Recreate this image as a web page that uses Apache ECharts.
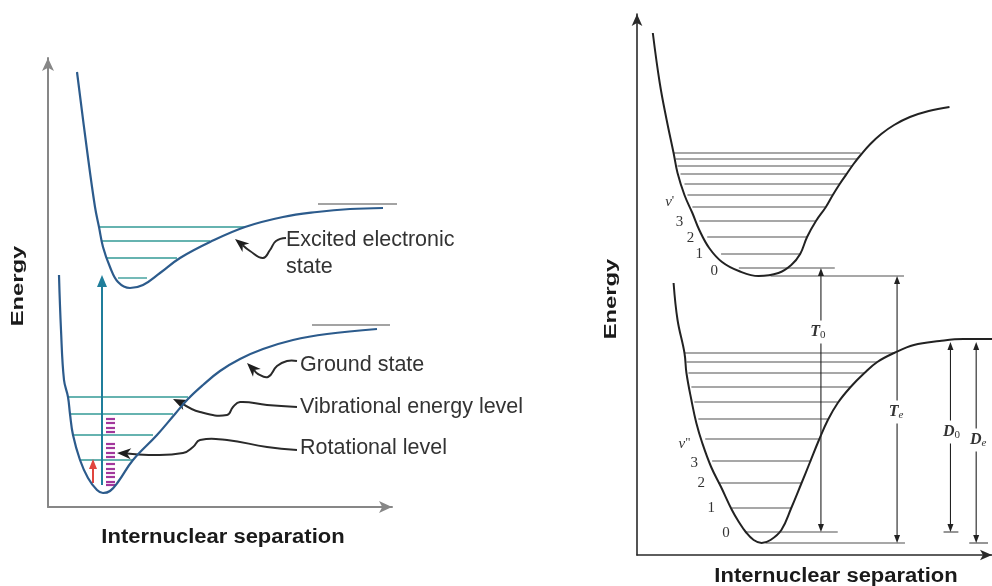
<!DOCTYPE html>
<html>
<head>
<meta charset="utf-8">
<script src="https://cdn.jsdelivr.net/npm/echarts@6/dist/echarts.min.js"></script>
<style>
  html, body { margin: 0; padding: 0; background: #fff; }
  #chart { width: 992px; height: 586px; }
</style>
</head>
<body>
<div id="chart"></div>
<script>
// ===== Left diagram: molecular potential curves (x: separation, y: energy) =====
const excitedCurve = [
  [0.29, 4.35], [0.39, 3.57], [0.47, 3.00], [0.51, 2.80], [0.55, 2.60], [0.62, 2.40],
  [0.70, 2.25], [0.82, 2.19], [0.95, 2.22], [1.12, 2.34], [1.32, 2.49], [1.62, 2.65],
  [1.97, 2.80], [2.35, 2.90], [2.69, 2.95], [3.02, 2.98], [3.35, 2.99]
];
const groundCurve = [
  [0.11, 2.32], [0.13, 1.77], [0.16, 1.27], [0.20, 1.10], [0.22, 0.93], [0.25, 0.72],
  [0.32, 0.47], [0.40, 0.29], [0.49, 0.17], [0.55, 0.14], [0.62, 0.16], [0.70, 0.25],
  [0.85, 0.47], [1.09, 0.72], [1.27, 0.93], [1.40, 1.08], [1.55, 1.22], [1.72, 1.36],
  [1.92, 1.48], [2.15, 1.58], [2.45, 1.67], [2.79, 1.73], [3.29, 1.78]
];
// vibrational levels: [left x, right x, energy]
const excitedLevels = [[0.51, 1.97, 2.80], [0.53, 1.62, 2.66], [0.59, 1.29, 2.49], [0.70, 0.99, 2.29]];
const groundLevels = [[0.20, 1.40, 1.10], [0.22, 1.25, 0.93], [0.25, 1.05, 0.72], [0.32, 0.85, 0.47]];
// dissociation limits: [left x, right x, energy]
const limitLines = [[2.70, 3.49, 3.03], [2.64, 3.42, 1.82]];
// rotational sub-levels (energies) and their x span
const rotationalLevels = [0.88, 0.84, 0.79, 0.75, 0.63, 0.59, 0.54, 0.50, 0.43, 0.38, 0.34, 0.30, 0.25, 0.22];
const rotationalSpan = [0.58, 0.67];
// transitions: [x, from energy, to energy]
const electronicJump = [[0.54, 0.22, 2.32]];
const vibrationalJump = [[0.45, 0.24, 0.48]];
// annotation text and anchor points
const leftLabels = ['Excited electronic', 'state', 'Ground state', 'Vibrational energy level', 'Rotational level'];
const leftLabelPos = [[2.38, 2.67], [2.38, 2.40], [2.52, 1.42], [2.52, 1.00], [2.52, 0.59]];
// pointer paths, tip first
const pointerExcited = [[1.87, 2.68], [2.02, 2.56], [2.15, 2.49], [2.22, 2.57], [2.28, 2.66], [2.38, 2.69]];
const pointerGround = [[1.99, 1.44], [2.10, 1.33], [2.20, 1.30], [2.29, 1.41], [2.39, 1.46], [2.49, 1.46]];
const pointerVibrational = [[1.25, 1.08], [1.52, 0.95], [1.79, 0.92], [1.85, 1.00], [1.92, 1.05], [2.19, 1.02], [2.49, 1.00]];
const pointerRotational = [[0.69, 0.54], [1.02, 0.52], [1.35, 0.54], [1.45, 0.60], [1.52, 0.67], [1.79, 0.67], [2.19, 0.60], [2.49, 0.57]];
const pointerPaths = [pointerExcited, pointerGround, pointerVibrational, pointerRotational];

// ===== Right diagram: spectroscopic constants =====
const upperCurve = [
  [0.16, 5.22], [0.23, 4.72], [0.30, 4.35], [0.37, 4.02], [0.41, 3.82], [0.48, 3.60],
  [0.56, 3.42], [0.63, 3.25], [0.73, 3.07], [0.86, 2.93], [1.03, 2.84], [1.23, 2.79],
  [1.43, 2.82], [1.56, 2.90], [1.65, 3.01], [1.72, 3.18], [1.81, 3.34], [1.91, 3.48],
  [1.98, 3.60], [2.05, 3.71], [2.12, 3.81], [2.19, 3.91], [2.27, 4.01], [2.36, 4.11],
  [2.47, 4.21], [2.60, 4.30], [2.76, 4.38], [2.95, 4.44], [3.16, 4.48]
];
const lowerCurve = [
  [0.37, 2.72], [0.41, 2.35], [0.48, 2.02], [0.50, 1.82], [0.55, 1.55], [0.60, 1.32],
  [0.66, 1.12], [0.75, 0.88], [0.85, 0.68], [0.96, 0.45], [1.03, 0.33], [1.10, 0.23],
  [1.18, 0.15], [1.26, 0.12], [1.35, 0.15], [1.46, 0.25], [1.56, 0.47], [1.66, 0.71],
  [1.75, 0.93], [1.84, 1.15], [1.93, 1.35], [2.03, 1.52], [2.16, 1.68], [2.30, 1.82],
  [2.43, 1.93], [2.60, 2.02], [2.80, 2.10], [3.06, 2.14], [3.30, 2.16], [3.62, 2.16]
];
const upperLevels = [
  [0.37, 2.26, 4.02], [0.39, 2.23, 3.96], [0.41, 2.18, 3.89], [0.44, 2.12, 3.81],
  [0.48, 2.05, 3.71], [0.51, 1.98, 3.60], [0.56, 1.91, 3.48], [0.63, 1.81, 3.34],
  [0.71, 1.72, 3.18], [0.85, 1.65, 3.01], [1.03, 2.00, 2.87]
];
const lowerLevels = [
  [0.48, 2.60, 2.02], [0.50, 2.43, 1.93], [0.52, 2.30, 1.82], [0.55, 2.16, 1.68],
  [0.58, 2.03, 1.53], [0.62, 1.93, 1.36], [0.69, 1.84, 1.16], [0.76, 1.75, 0.94],
  [0.82, 1.66, 0.72], [0.96, 1.56, 0.47], [1.10, 2.03, 0.23]
];
// potential minima and small end ticks: [left x, right x, energy]
const referenceLines = [[1.35, 2.70, 2.79], [1.30, 2.71, 0.12], [3.10, 3.25, 0.23], [3.36, 3.55, 0.12]];
// energy differences: [x, top energy, bottom energy]
const energySpans = [[1.86, 2.87, 0.23], [2.63, 2.79, 0.12], [3.17, 2.13, 0.23], [3.43, 2.13, 0.12]];
const spanLabels = ['{i|T}{s|0}', '{i|T}{se|e}', '{i|D}{s|0}', '{i|D}{se|e}'];
const spanLabelPos = [[1.83, 2.23], [2.62, 1.43], [3.18, 1.23], [3.45, 1.15]];
const upperQuanta = ["{v|v}{p|'}", '3', '2', '1', '0'];
const upperQuantaPos = [[0.33, 3.53], [0.43, 3.33], [0.54, 3.17], [0.63, 3.01], [0.78, 2.84]];
const lowerQuanta = ['{v|v}{p|"}', '3', '2', '1', '0'];
const lowerQuantaPos = [[0.48, 1.11], [0.58, 0.92], [0.65, 0.72], [0.75, 0.47], [0.90, 0.22]];

// ---------- colours ----------
const CURVE_BLUE = '#2c5b8c';
const LEVEL_TEAL = '#66b3b0';
const JUMP_TEAL = '#1f7e9b';
const ROT_MAGENTA = '#a2379c';
const LIMIT_GRAY = '#a3a3a3';
const INK = '#222';
const SANS = '"Liberation Sans", Arial, sans-serif';
const SERIF = '"Liberation Serif", "DejaVu Serif", serif';

// ---------- render helpers ----------
function segmentRenderer(color, width) {
  return function (params, api) {
    const a = api.coord([api.value(0), api.value(2)]);
    const b = api.coord([api.value(1), api.value(2)]);
    return { type: 'line', shape: { x1: a[0], y1: a[1], x2: b[0], y2: b[1] },
             style: { stroke: color, lineWidth: width } };
  };
}

// vertical arrow from energy value(1) to energy value(2); optional head at both ends
function arrowRenderer(color, width, headLen, headHalf, both) {
  return function (params, api) {
    const x = api.value(0);
    const tip = api.coord([x, api.value(2)]);
    const tail = api.coord([x, api.value(1)]);
    const dir = tip[1] < tail[1] ? 1 : -1;
    const children = [];
    children.push({ type: 'line',
      shape: { x1: tail[0], y1: tail[1] - (both ? dir * headLen : 0), x2: tip[0], y2: tip[1] + dir * headLen },
      style: { stroke: color, lineWidth: width } });
    children.push({ type: 'polygon',
      shape: { points: [[tip[0], tip[1]], [tip[0] - headHalf, tip[1] + dir * headLen], [tip[0] + headHalf, tip[1] + dir * headLen]] },
      style: { fill: color } });
    if (both) {
      children.push({ type: 'polygon',
        shape: { points: [[tail[0], tail[1]], [tail[0] - headHalf, tail[1] - dir * headLen], [tail[0] + headHalf, tail[1] - dir * headLen]] },
        style: { fill: color } });
    }
    return { type: 'group', children: children };
  };
}

function pointerRenderer(params, api) {
  const pts = pointerPaths[params.dataIndex].map(function (p) { return api.coord(p); });
  const tip = pts[0], next = pts[1];
  const ang = Math.atan2(tip[1] - next[1], tip[0] - next[0]);
  const L = 14, W = 5.5, notch = 4;
  const cx = Math.cos(ang), sy = Math.sin(ang);
  const base = [tip[0] - L * cx, tip[1] - L * sy];
  const inner = [tip[0] - (L - notch) * cx, tip[1] - (L - notch) * sy];
  const left = [base[0] + W * sy, base[1] - W * cx];
  const right = [base[0] - W * sy, base[1] + W * cx];
  const line = [inner].concat(pts.slice(1));
  return { type: 'group', children: [
    { type: 'polyline', shape: { points: line, smooth: 0.45 },
      style: { stroke: '#2a2a2a', lineWidth: 2, fill: null } },
    { type: 'polygon', shape: { points: [tip, left, inner, right] }, style: { fill: '#1e1e1e' } }
  ] };
}

function textRenderer(labels, textStyle) {
  return function (params, api) {
    const p = api.coord([api.value(0), api.value(1)]);
    return { type: 'text', x: p[0], y: p[1],
             style: Object.assign({ text: labels[params.dataIndex] }, textStyle) };
  };
}

function hiddenAxis(extra) {
  return Object.assign({
    type: 'value',
    axisTick: { show: false },
    axisLabel: { show: false },
    splitLine: { show: false }
  }, extra);
}

const chart = echarts.init(document.getElementById('chart'), null, { renderer: 'canvas' });

const leftAxisLine = { show: true, onZero: false, lineStyle: { color: '#878787', width: 2 }, symbol: ['none', 'arrow'], symbolSize: [9, 13] };
const rightAxisLine = { show: true, onZero: false, lineStyle: { color: '#2a2a2a', width: 1.6 }, symbol: ['none', 'arrow'], symbolSize: [8, 12] };

const quantaRich = {
  v: { fontSize: 15, fontStyle: 'italic', fontFamily: SERIF, fill: '#333' },
  p: { fontSize: 13, fontFamily: SERIF, fill: '#333', verticalAlign: 'top' }
};

const option = {
  backgroundColor: '#ffffff',
  animation: false,
  grid: [
    { left: 48, top: 58, width: 344, height: 449 },
    { left: 637, top: 14, width: 359, height: 541 }
  ],
  xAxis: [
    hiddenAxis({ gridIndex: 0, min: 0, max: 3.44, axisLine: leftAxisLine }),
    hiddenAxis({ gridIndex: 1, min: 0, max: 3.59, axisLine: rightAxisLine })
  ],
  yAxis: [
    hiddenAxis({ gridIndex: 0, min: 0, max: 4.49, axisLine: leftAxisLine }),
    hiddenAxis({ gridIndex: 1, min: 0, max: 5.41, axisLine: rightAxisLine })
  ],
  graphic: [
    { type: 'text', x: 18, y: 286, rotation: Math.PI / 2, scaleX: 1.4,
      style: { text: 'Energy', font: 'bold 17px ' + SANS, fill: '#1a1a1a', align: 'center', verticalAlign: 'middle' } },
    { type: 'text', x: 223, y: 537, scaleX: 1.1,
      style: { text: 'Internuclear separation', font: 'bold 20px ' + SANS, fill: '#1a1a1a', align: 'center', verticalAlign: 'middle' } },
    { type: 'text', x: 611, y: 299, rotation: Math.PI / 2, scaleX: 1.4,
      style: { text: 'Energy', font: 'bold 17px ' + SANS, fill: '#1a1a1a', align: 'center', verticalAlign: 'middle' } },
    { type: 'text', x: 836, y: 576, scaleX: 1.1,
      style: { text: 'Internuclear separation', font: 'bold 20px ' + SANS, fill: '#1a1a1a', align: 'center', verticalAlign: 'middle' } }
  ],
  series: [
    // ---- left diagram ----
    { type: 'custom', name: 'Dissociation limits', xAxisIndex: 0, yAxisIndex: 0,
      renderItem: segmentRenderer(LIMIT_GRAY, 2), data: limitLines },
    { type: 'custom', name: 'Excited levels', xAxisIndex: 0, yAxisIndex: 0,
      renderItem: segmentRenderer(LEVEL_TEAL, 1.8), data: excitedLevels },
    { type: 'custom', name: 'Ground levels', xAxisIndex: 0, yAxisIndex: 0,
      renderItem: segmentRenderer(LEVEL_TEAL, 1.8), data: groundLevels },
    { type: 'custom', name: 'Rotational levels', xAxisIndex: 0, yAxisIndex: 0,
      renderItem: segmentRenderer(ROT_MAGENTA, 2.2),
      data: rotationalLevels.map(function (e) { return [rotationalSpan[0], rotationalSpan[1], e]; }) },
    { type: 'line', name: 'Excited state', xAxisIndex: 0, yAxisIndex: 0, data: excitedCurve,
      smooth: 0.4, showSymbol: false, lineStyle: { color: CURVE_BLUE, width: 2.2 } },
    { type: 'line', name: 'Ground state', xAxisIndex: 0, yAxisIndex: 0, data: groundCurve,
      smooth: 0.4, showSymbol: false, lineStyle: { color: CURVE_BLUE, width: 2.2 } },
    { type: 'custom', name: 'Electronic transition', xAxisIndex: 0, yAxisIndex: 0,
      renderItem: arrowRenderer(JUMP_TEAL, 2, 12, 5, false), data: electronicJump },
    { type: 'custom', name: 'Vibrational transition', xAxisIndex: 0, yAxisIndex: 0,
      renderItem: arrowRenderer('#e0463f', 2, 10, 4, false), data: vibrationalJump },
    { type: 'custom', name: 'Pointers', xAxisIndex: 0, yAxisIndex: 0,
      renderItem: pointerRenderer, data: pointerPaths.map(function (p) { return p[0]; }) },
    { type: 'custom', name: 'Left labels', xAxisIndex: 0, yAxisIndex: 0,
      renderItem: textRenderer(leftLabels, { fontSize: 21.5, fontFamily: SANS, fill: '#333', align: 'left', verticalAlign: 'middle' }),
      data: leftLabelPos },

    // ---- right diagram ----
    { type: 'custom', name: 'Upper levels', xAxisIndex: 1, yAxisIndex: 1,
      renderItem: segmentRenderer('#505050', 1.2), data: upperLevels },
    { type: 'custom', name: 'Lower levels', xAxisIndex: 1, yAxisIndex: 1,
      renderItem: segmentRenderer('#505050', 1.2), data: lowerLevels },
    { type: 'custom', name: 'Reference lines', xAxisIndex: 1, yAxisIndex: 1,
      renderItem: segmentRenderer('#505050', 1.2), data: referenceLines },
    { type: 'line', name: 'Upper state', xAxisIndex: 1, yAxisIndex: 1, data: upperCurve,
      smooth: 0.4, showSymbol: false, lineStyle: { color: INK, width: 2 } },
    { type: 'line', name: 'Lower state', xAxisIndex: 1, yAxisIndex: 1, data: lowerCurve,
      smooth: 0.4, showSymbol: false, lineStyle: { color: INK, width: 2 } },
    { type: 'custom', name: 'Energy spans', xAxisIndex: 1, yAxisIndex: 1,
      renderItem: arrowRenderer(INK, 1.1, 8, 3, true),
      data: energySpans.map(function (s) { return [s[0], s[2], s[1]]; }) },
    { type: 'custom', name: 'Span labels', xAxisIndex: 1, yAxisIndex: 1,
      renderItem: textRenderer(spanLabels, {
        align: 'center', verticalAlign: 'middle', backgroundColor: '#fff', padding: [3, 1],
        rich: {
          i: { fontSize: 16, fontStyle: 'italic', fontWeight: 'bold', fontFamily: SERIF, fill: '#333' },
          s: { fontSize: 11, fontFamily: SERIF, fill: '#333', verticalAlign: 'bottom', padding: [6, 0, 0, 0] },
          se: { fontSize: 11, fontStyle: 'italic', fontFamily: SERIF, fill: '#333', verticalAlign: 'bottom', padding: [6, 0, 0, 0] }
        }
      }),
      data: spanLabelPos },
    { type: 'custom', name: 'Upper quanta', xAxisIndex: 1, yAxisIndex: 1,
      renderItem: textRenderer(upperQuanta, { fontSize: 15, fontFamily: SERIF, fill: '#333', align: 'center', verticalAlign: 'middle', rich: quantaRich }),
      data: upperQuantaPos },
    { type: 'custom', name: 'Lower quanta', xAxisIndex: 1, yAxisIndex: 1,
      renderItem: textRenderer(lowerQuanta, { fontSize: 15, fontFamily: SERIF, fill: '#333', align: 'center', verticalAlign: 'middle', rich: quantaRich }),
      data: lowerQuantaPos }
  ]
};

chart.setOption(option);
</script>
</body>
</html>
